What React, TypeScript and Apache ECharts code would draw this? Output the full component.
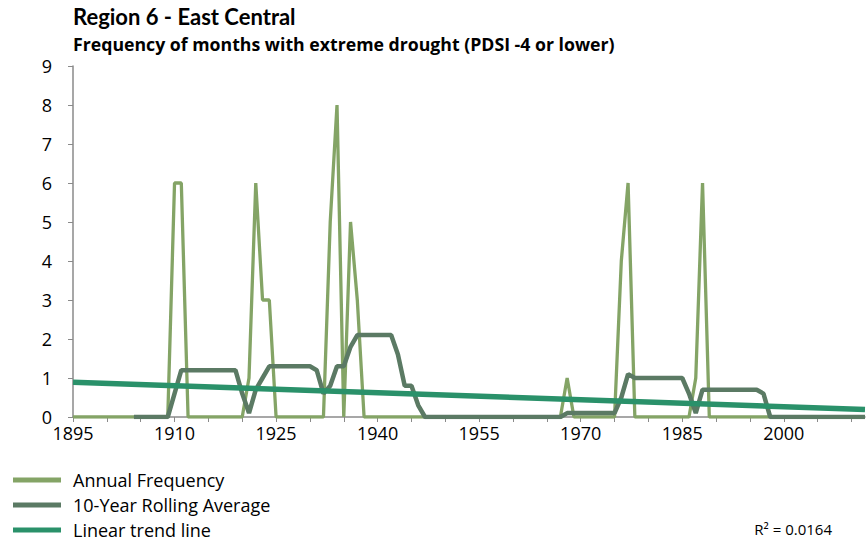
import React, { useEffect, useRef } from "react";
import * as echarts from "echarts";

const startYear = 1895;
const endYear = 2012;
const years: string[] = [];
for (let y = startYear; y <= endYear; y++) years.push(String(y));

// Annual frequency of months with PDSI <= -4 (1895..2012)
const annualFrequency: number[] = [
  0, 0, 0, 0, 0, 0, 0, 0, 0, 0, 0, 0, 0, 0, 0, // 1895-1909
  6, 6, // 1910-1911
  0, 0, 0, 0, 0, 0, 0, 0, 0, // 1912-1920
  1, 6, 3, 3, // 1921-1924
  0, 0, 0, 0, 0, 0, 0, 0, // 1925-1932
  5, 8, 0, 5, 3, // 1933-1937
  0, 0, 0, 0, 0, 0, 0, 0, 0, 0, 0, 0, 0, 0, 0, 0, 0, 0, 0, 0, 0, 0, 0, 0, 0, 0, 0, 0, 0, 0, // 1938-1967
  1, // 1968
  0, 0, 0, 0, 0, 0, 0, // 1969-1975
  4, 6, // 1976-1977
  0, 0, 0, 0, 0, 0, 0, 0, 0, // 1978-1986
  1, 6, // 1987-1988
  0, 0, 0, 0, 0, 0, 0, 0, 0, 0, 0, 0, 0, 0, 0, 0, 0, 0, 0, 0, 0, 0, 0, 0, // 1989-2012
];

// 10-year rolling average (1895..2012)
const rollingAverage: (number | null)[] = [
  null, null, null, null, null, null, null, null, null, // 1895-1903
  0, 0, 0, 0, 0, 0, // 1904-1909
  0.6, 1.2, // 1910-1911
  1.2, 1.2, 1.2, 1.2, 1.2, 1.2, 1.2, 1.2, // 1912-1919
  0.6, 0.1, 0.7, 1.0, 1.3, // 1920-1924
  1.3, 1.3, 1.3, 1.3, 1.3, 1.3, // 1925-1930
  1.2, 0.6, 0.8, 1.3, 1.3, 1.8, 2.1, // 1931-1937
  2.1, 2.1, 2.1, 2.1, 2.1, // 1938-1942
  1.6, 0.8, 0.8, 0.3, // 1943-1946
  0, 0, 0, 0, 0, 0, 0, 0, 0, 0, 0, 0, 0, 0, 0, 0, 0, 0, 0, 0, 0, // 1947-1967
  0.1, 0.1, 0.1, 0.1, 0.1, 0.1, 0.1, 0.1, // 1968-1975
  0.5, 1.1, // 1976-1977
  1.0, 1.0, 1.0, 1.0, 1.0, 1.0, 1.0, 1.0, // 1978-1985
  0.6, 0.1, 0.7, // 1986-1988
  0.7, 0.7, 0.7, 0.7, 0.7, 0.7, 0.7, 0.7, // 1989-1996
  0.6, // 1997
  0, 0, 0, 0, 0, 0, 0, 0, 0, 0, 0, 0, 0, 0, 0, // 1998-2012
];

// Linear trend line end points
const trendYears: string[] = ["1895", "2012"];
const trendValues: number[] = [0.89, 0.19];

const rSquaredLabel = "R² = 0.0164";
const titleText = "Region 6 - East Central";
const subtitleText = "Frequency of months with extreme drought (PDSI -4 or lower)";

const TITLE_FONT = "Lato, 'Noto Sans', sans-serif";
const FONT = "'Open Sans', 'Noto Sans', sans-serif";

export default function App() {
  const ref = useRef<HTMLDivElement>(null);
  useEffect(() => {
    if (!ref.current) return;
    const chart = echarts.init(ref.current, undefined, { renderer: "svg" });
    chart.setOption({
      animation: false,
      backgroundColor: "#ffffff",
      textStyle: { fontFamily: FONT },
      title: {
        text: titleText,
        subtext: subtitleText,
        left: 73,
        top: 5,
        padding: 0,
        itemGap: 8,
        textStyle: { fontFamily: TITLE_FONT, fontSize: 22, fontWeight: "bold", color: "#000" },
        subtextStyle: { fontFamily: FONT, fontSize: 17.7, fontWeight: "bold", color: "#000" },
      },
      grid: { left: 73, right: 2, top: 66, bottom: 126, containLabel: false },
      xAxis: {
        type: "category",
        data: years,
        boundaryGap: false,
        axisLine: { lineStyle: { color: "#8a8a8a", width: 1.5 } },
        axisTick: {
          show: true,
          length: 5,
          interval: (i: number) => i % 5 === 0,
          lineStyle: { color: "#8a8a8a" },
        },
        axisLabel: {
          interval: (i: number) => i % 15 === 0,
          fontFamily: FONT,
          fontSize: 18,
          color: "#000",
          margin: 7,
        },
        splitLine: { show: false },
      },
      yAxis: {
        type: "value",
        min: 0,
        max: 9,
        interval: 1,
        axisLine: { show: true, lineStyle: { color: "#8a8a8a", width: 1.5 } },
        axisTick: { show: true, length: 5, lineStyle: { color: "#8a8a8a" } },
        axisLabel: { fontFamily: FONT, fontSize: 18, color: "#000", margin: 21 },
        splitLine: { show: false },
      },
      legend: {
        orient: "vertical",
        left: 13,
        top: 471,
        height: 72,
        padding: 0,
        itemGap: 7,
        itemWidth: 48,
        itemHeight: 5,
        icon: "rect",
        textStyle: {
          fontFamily: FONT,
          fontSize: 18,
          lineHeight: 18,
          color: "#000",
          padding: [0, 0, 0, 7],
        },
        data: ["Annual Frequency", "10-Year Rolling Average", "Linear trend line"],
      },
      graphic: [
        {
          type: "text",
          right: 35,
          top: 521,
          style: { text: rSquaredLabel, font: `15px ${FONT}`, fill: "#000" },
        },
      ],
      series: [
        {
          name: "Annual Frequency",
          type: "line",
          data: annualFrequency,
          showSymbol: false,
          symbol: "none",
          color: "#84a466",
          lineStyle: { color: "#84a466", width: 3.3 },
          z: 2,
        },
        {
          name: "10-Year Rolling Average",
          type: "line",
          data: rollingAverage,
          showSymbol: false,
          symbol: "none",
          color: "#5b7a64",
          lineStyle: { color: "#5b7a64", width: 4.5 },
          z: 3,
        },
        {
          name: "Linear trend line",
          type: "line",
          data: trendYears.map((y, i) => [y, trendValues[i]]),
          showSymbol: false,
          symbol: "none",
          color: "#2a916a",
          lineStyle: { color: "#2a916a", width: 5.5 },
          z: 4,
        },
      ],
    });
    return () => chart.dispose();
  }, []);
  return <div ref={ref} style={{ width: 867, height: 543, position: "absolute", left: 0, top: 0 }} />;
}
